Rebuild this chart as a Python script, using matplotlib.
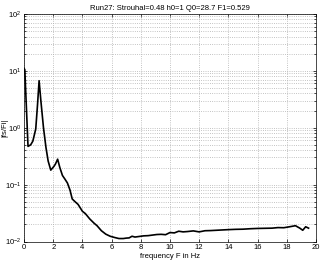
import matplotlib
matplotlib.use("Agg")
import matplotlib.pyplot as plt
from matplotlib.ticker import LogLocator, NullFormatter

freq = [0.0, 0.05, 0.27, 0.45, 0.6, 0.8, 0.92, 1.03, 1.15, 1.33, 1.5, 1.65, 1.83, 2.05, 2.15, 2.3, 2.45,
        2.63, 2.8, 2.97, 3.15, 3.3, 3.5, 3.7, 4.0, 4.2, 4.5, 4.8, 5.0, 5.3, 5.6, 5.9, 6.2, 6.5,
        6.8, 7.0, 7.2, 7.4, 7.6, 7.9, 8.2, 8.5, 8.8, 9.1, 9.4, 9.7, 10.0, 10.3, 10.6, 10.9,
        11.2, 11.6, 12.0, 12.4, 12.8, 13.2, 13.6, 14.0, 14.5, 15.0, 15.5, 16.0, 16.5, 17.0,
        17.4, 17.8, 18.2, 18.6, 18.9, 19.1, 19.3, 19.5]
amp = [11.0, 10.5, 0.47, 0.5, 0.58, 0.95, 2.5, 6.7, 3.0, 1.0, 0.45, 0.26, 0.18, 0.21, 0.23, 0.28, 0.2,
       0.145, 0.125, 0.107, 0.08, 0.056, 0.05, 0.045, 0.034, 0.031, 0.025, 0.021, 0.019, 0.0155, 0.0135, 0.0124, 0.0118, 0.0113,
       0.0113, 0.0115, 0.0116, 0.0124, 0.012, 0.0123, 0.0126, 0.0127, 0.013, 0.0133, 0.0134, 0.0132, 0.0144, 0.0142, 0.0152, 0.0148,
       0.015, 0.0154, 0.0148, 0.0155, 0.0156, 0.0158, 0.016, 0.0162, 0.0164, 0.0165, 0.0168, 0.017, 0.0171, 0.0172,
       0.0176, 0.0175, 0.0182, 0.019, 0.0172, 0.0158, 0.0182, 0.0172]

title = "Run27: Strouhal=0.48 h0=1 Q0=28.7 F1=0.529"
xlabel = "frequency F in Hz"
ylabel = "|fs/Fi|"
xticks = list(range(0, 21, 2))

plt.rcParams['font.family'] = ['Liberation Sans', 'DejaVu Sans']
fig = plt.figure(figsize=(3.21, 2.62), dpi=100)
ax = fig.add_axes([0.075, 0.078, 0.909, 0.869])
ax.semilogy(freq, amp, color='black', linewidth=1.2)
ax.set_xlim(0, 20)
ax.set_ylim(1e-2, 1e2)
ax.set_xticks(xticks)
ax.yaxis.set_major_locator(LogLocator(base=10, numticks=10))
ax.yaxis.set_minor_locator(LogLocator(base=10, subs=range(2, 10), numticks=10))
ax.yaxis.set_minor_formatter(NullFormatter())
ax.tick_params(which='both', direction='in', top=True, right=True, labelsize=5.5, length=2.5, width=0.5, pad=2)
ax.tick_params(which='minor', length=1.5)
ax.grid(True, which='major', axis='both', linestyle=':', color='#b0b0b0', linewidth=0.6)
ax.grid(True, which='minor', axis='y', linestyle=':', color='#b0b0b0', linewidth=0.6)
for s in ax.spines.values():
    s.set_linewidth(0.5)
ax.set_title(title, fontsize=5.5, pad=3)
ax.set_xlabel(xlabel, fontsize=5.5, labelpad=1)
ax.set_ylabel(ylabel, fontsize=5.5)
ax.yaxis.set_label_coords(-0.055, 0.5)
fig.savefig("out.png", dpi=100)
